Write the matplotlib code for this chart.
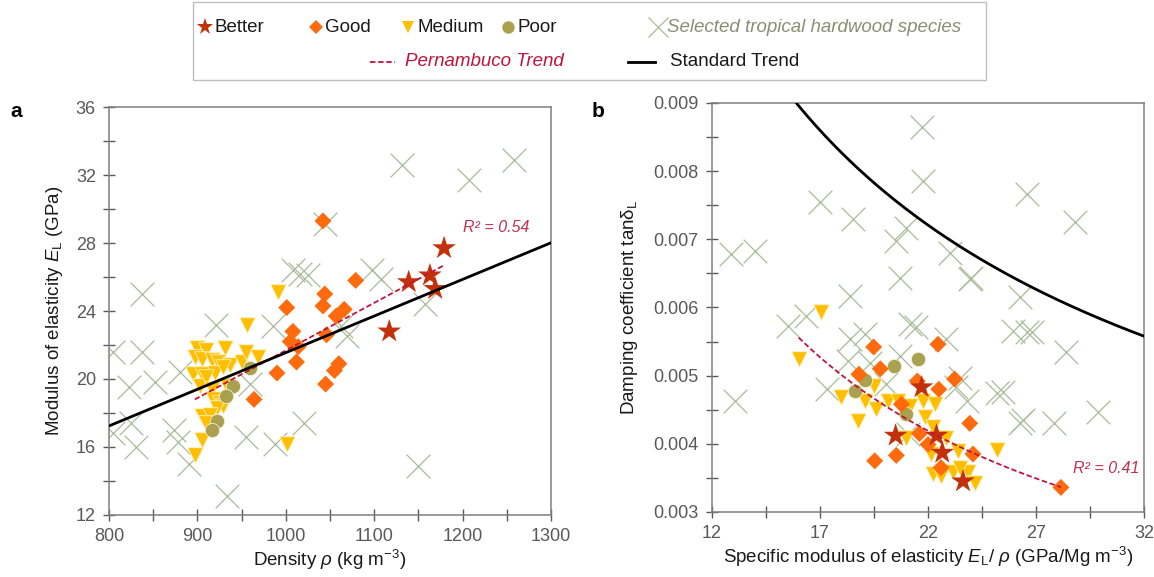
import numpy as np
import matplotlib.pyplot as plt
from matplotlib.lines import Line2D
from matplotlib.patches import Rectangle
from matplotlib.ticker import MultipleLocator, FormatStrFormatter

plt.rcParams['font.family'] = ['Liberation Sans', 'DejaVu Sans']
plt.rcParams['mathtext.fontset'] = 'custom'
plt.rcParams['mathtext.rm'] = 'Liberation Sans'
plt.rcParams['mathtext.it'] = 'Liberation Sans:italic'

# ---- panel a: density vs modulus of elasticity ----
better_rho = [1117, 1139, 1163, 1169, 1179]
better_E = [22.8, 25.7, 26.1, 25.3, 27.7]

good_rho = [1042, 1079, 1066, 1057, 1060, 1055, 1045, 1001, 1008, 1005, 1014, 1012, 990, 964, 1044, 1042, 1046]
good_E = [29.3, 25.8, 24.1, 23.7, 20.9, 20.5, 19.7, 24.2, 22.8, 22.2, 21.9, 21.0, 20.35, 18.8, 25.0, 24.3, 22.6]

medium_rho = [991, 956, 899, 910, 931, 897, 905, 916, 923, 937, 950, 955, 969, 895, 905, 920, 929,
              903, 910, 916, 918, 925, 929, 922, 905, 914, 905, 897, 1001, 910, 933]
medium_E = [25.1, 23.2, 21.8, 21.7, 21.8, 21.3, 21.2, 21.1, 21.0, 20.8, 21.0, 21.6, 21.3, 20.3, 20.3, 20.35, 20.7,
            19.6, 20.1, 19.4, 18.8, 18.6, 18.4, 18.3, 17.8, 17.9, 16.4, 15.55, 16.2, 17.4, 19.6]

poor_rho = [960, 940, 932, 922, 916]
poor_E = [20.65, 19.6, 19.0, 17.55, 17.0]

trop_rho = [837, 805, 837, 823, 852, 805, 825, 831, 873, 878, 891, 880, 921, 933, 955, 988, 1021, 986, 959,
            1069, 1062, 1044, 1008, 1016, 1025, 1098, 1108, 1157, 1149, 1131, 1207, 1258]
trop_E = [25.0, 21.6, 21.6, 19.5, 19.8, 16.8, 17.4, 16.0, 17.0, 16.3, 15.0, 20.4, 23.2, 13.1, 16.6, 16.2, 17.4, 23.1, 19.7,
          22.5, 23.1, 29.1, 26.4, 26.2, 26.1, 26.4, 25.9, 24.4, 14.9, 32.6, 31.7, 32.9]

# trend lines
pern_a_slope, pern_a_icpt = 0.0280, -6.32
std_a_slope = 0.02155

# ---- panel b: specific modulus vs damping ----
better_sm = [21.7, 20.5, 22.39, 22.66, 23.62]
better_tan = [0.00483, 0.00412, 0.00412, 0.00387, 0.00345]

good_sm = [19.48, 22.46, 18.8, 19.79, 21.5, 22.5, 23.23, 20.77, 23.93, 24.08, 21.6, 22.0, 22.6, 19.53, 20.53, 28.15]
good_tan = [0.00542, 0.00546, 0.00502, 0.00510, 0.00492, 0.00480, 0.00495, 0.00458, 0.00430, 0.00385,
            0.00415, 0.00399, 0.00365, 0.00375, 0.00383, 0.00336]

medium_sm = [17.06, 16.01, 17.99, 18.76, 19.07, 19.5, 19.6, 20.15, 20.6, 21.15, 21.0, 21.77, 22.3, 21.85,
             22.23, 22.85, 23.4, 22.15, 22.23, 22.6, 23.16, 23.85, 24.16, 23.47, 25.19]
medium_tan = [0.00594, 0.00524, 0.00468, 0.00434, 0.00463, 0.00485, 0.00451, 0.00463, 0.00463, 0.00456, 0.00409,
              0.00463, 0.00458, 0.00439, 0.00424, 0.00409, 0.00390, 0.00385, 0.00355, 0.00353, 0.00358, 0.00358,
              0.00343, 0.00365, 0.00391]

poor_sm = [18.6, 19.07, 20.43, 21.54, 21.0]
poor_tan = [0.00478, 0.00493, 0.00514, 0.00525, 0.00443]

trop_sm = [13.05, 15.52, 16.37, 18.37, 18.37, 19.07, 17.3, 18.3, 19.3, 21.15, 21.46, 20.07, 20.7, 23.3, 23.47, 23.8,
           21.07, 22.85, 12.9, 13.98, 16.98, 18.53, 20.53, 21.0, 21.74, 21.77, 20.69, 23.0, 24.0,
           26.56, 28.79, 23.93, 26.25, 25.94, 26.56, 26.79, 28.37, 25.17, 25.47, 26.25, 26.4, 27.83, 29.87]
trop_tan = [0.00463, 0.00573, 0.00588, 0.00617, 0.00554, 0.00561, 0.00480, 0.00522, 0.00519, 0.00576, 0.00571,
            0.00487, 0.00529, 0.00483, 0.00497, 0.00463, 0.00414, 0.00554, 0.00678, 0.00683, 0.00755, 0.00729,
            0.00698, 0.00717, 0.00864, 0.00785, 0.00643, 0.00680, 0.00643, 0.00766, 0.00725, 0.00642, 0.00615,
            0.00566, 0.00564, 0.00564, 0.00535, 0.00474, 0.00476, 0.00430, 0.00435, 0.00430, 0.00447]

pern_b_A, pern_b_B = 0.0655, -0.8895
std_b_A, std_b_B = 0.0597, -0.684

sm_ticks = [12, 17, 22, 27, 32]

c_better = '#C3310C'
c_good = '#FF6A0D'
c_medium = '#FFBF00'
c_poor = '#A9A050'
c_trop = '#A9BC98'
c_red = '#C0143C'
c_tick = '#595959'

fig = plt.figure(figsize=(11.54, 5.77), dpi=100)
ax1 = fig.add_axes([0.0945, 0.1075, 0.383, 0.707])
ax2 = fig.add_axes([0.617, 0.1127, 0.3744, 0.709])


def scatter_all(ax, xs, ys):
    tx, mx, px, gx, bx = xs
    ty, my, py, gy, by = ys
    ax.scatter(tx, ty, marker='x', s=290, c=c_trop, linewidths=0.9, zorder=1)
    ax.scatter(mx, my, marker='v', s=125, c=c_medium, edgecolors='#FFF3C0', linewidths=0.6, zorder=2)
    ax.scatter(px, py, marker='o', s=105, c=c_poor, edgecolors='#F2EFD5', linewidths=0.6, zorder=3)
    ax.scatter(gx, gy, marker='D', s=75, c=c_good, edgecolors='none', zorder=4)
    ax.scatter(bx, by, marker='*', s=320, c=c_better, edgecolors='none', zorder=5)


scatter_all(ax1, [trop_rho, medium_rho, poor_rho, good_rho, better_rho],
            [trop_E, medium_E, poor_E, good_E, better_E])
scatter_all(ax2, [trop_sm, medium_sm, poor_sm, good_sm, better_sm],
            [trop_tan, medium_tan, poor_tan, good_tan, better_tan])

# trend lines
all_rho = medium_rho + poor_rho + good_rho + better_rho
xa = np.linspace(min(all_rho) + 2, max(all_rho), 50)
ax1.plot(xa, pern_a_slope * xa + pern_a_icpt, ls=(0, (3, 1.5)), c=c_red, lw=1.3, zorder=6)
xs = np.linspace(800, 1300, 50)
ax1.plot(xs, std_a_slope * xs, c='black', lw=2, zorder=6)

all_sm = medium_sm + poor_sm + good_sm + better_sm
xb = np.linspace(min(all_sm), max(all_sm), 80)
ax2.plot(xb, pern_b_A * xb ** pern_b_B, ls=(0, (3, 1.5)), c=c_red, lw=1.3, zorder=6)
xs2 = np.linspace(12, 32, 200)
ax2.plot(xs2, std_b_A * xs2 ** std_b_B, c='black', lw=2, zorder=6)

ax1.text(1200, 28.9, 'R² = 0.54', color='#C0314F', style='italic', fontsize=11.5, va='center')
ax2.text(28.7, 0.00364, 'R² = 0.41', color='#C0314F', style='italic', fontsize=11.5, va='center')

# axes styling
ax1.set_xlim(800, 1300)
ax1.set_ylim(12, 36)
ax1.xaxis.set_major_locator(MultipleLocator(100))
ax1.xaxis.set_minor_locator(MultipleLocator(50))
ax1.yaxis.set_major_locator(MultipleLocator(4))
ax1.yaxis.set_minor_locator(MultipleLocator(2))

ax2.set_xlim(sm_ticks[0], sm_ticks[-1])
ax2.set_ylim(0.003, 0.009)
ax2.set_xticks(sm_ticks)
ax2.set_xticks([t + 2.5 for t in sm_ticks[:-1]], minor=True)
ax2.yaxis.set_major_locator(MultipleLocator(0.001))
ax2.yaxis.set_minor_locator(MultipleLocator(0.0005))
ax2.yaxis.set_major_formatter(FormatStrFormatter('%.3f'))

for ax in (ax1, ax2):
    for sp in ax.spines.values():
        sp.set_color('#7F7F7F')
        sp.set_linewidth(1.1)
    ax.tick_params(which='both', direction='inout', length=9, width=1, color=c_tick,
                   labelcolor=c_tick, labelsize=13)
    ax.tick_params(which='major', pad=5)

ax1.set_xlabel(r'Density $\rho$ (kg m$^{\mathrm{-3}}$)', fontsize=13.5, color='#1a1a1a', labelpad=2)
ax1.set_ylabel(r'Modulus of elasticity $E_{\mathrm{L}}$ (GPa)', fontsize=13.5, color='#1a1a1a', labelpad=8)
ax2.set_xlabel(r'Specific modulus of elasticity $E_{\mathrm{L}}$/ $\rho$ (GPa/Mg m$^{\mathrm{-3}}$)',
               fontsize=13.5, color='#1a1a1a', labelpad=2)
ax2.set_ylabel(r'Damping coefficient tan$\mathrm{\delta}_{\mathrm{L}}$', fontsize=13.5, color='#1a1a1a',
               labelpad=10)

fig.text(0.009, 0.797, 'a', fontsize=15, fontweight='bold')
fig.text(0.513, 0.797, 'b', fontsize=15, fontweight='bold')

# legend box drawn by hand
fig.add_artist(Rectangle((0.167, 0.862), 0.687, 0.134, transform=fig.transFigure,
                         fill=False, edgecolor='#BFBFBF', lw=1))
y1, y2 = 0.953, 0.893
leg_items = [
    ('*', c_better, 150, 0.1776, 'Better', '#1a1a1a', 'normal'),
    ('D', c_good, 55, 0.2738, 'Good', '#1a1a1a', 'normal'),
    ('v', c_medium, 80, 0.3536, 'Medium', '#1a1a1a', 'normal'),
    ('o', c_poor, 80, 0.4402, 'Poor', '#1a1a1a', 'normal'),
    ('x', c_trop, 200, 0.5702, 'Selected tropical hardwood species', '#8A8F73', 'italic'),
]
for mk, col, sz, xm, label, tcol, st in leg_items:
    fig.add_artist(Line2D([xm], [y1], transform=fig.transFigure, marker=mk, ls='none',
                          markersize=np.sqrt(sz), color=col, markeredgewidth=0.9 if mk == 'x' else 0))
    fig.text(xm + 0.008, y1, label, color=tcol, style=st, fontsize=13.5, va='center')

fig.add_artist(Line2D([0.3206, 0.3423], [y2, y2], transform=fig.transFigure, ls=(0, (3, 1.5)),
                      c=c_red, lw=1.3))
fig.text(0.351, y2, 'Pernambuco Trend', color=c_red, style='italic', fontsize=13.5, va='center')
fig.add_artist(Line2D([0.5442, 0.5676], [y2, y2], transform=fig.transFigure, c='black', lw=2))
fig.text(0.5806, y2, 'Standard Trend', color='#1a1a1a', fontsize=13.5, va='center')

fig.savefig('out.png', dpi=100)
